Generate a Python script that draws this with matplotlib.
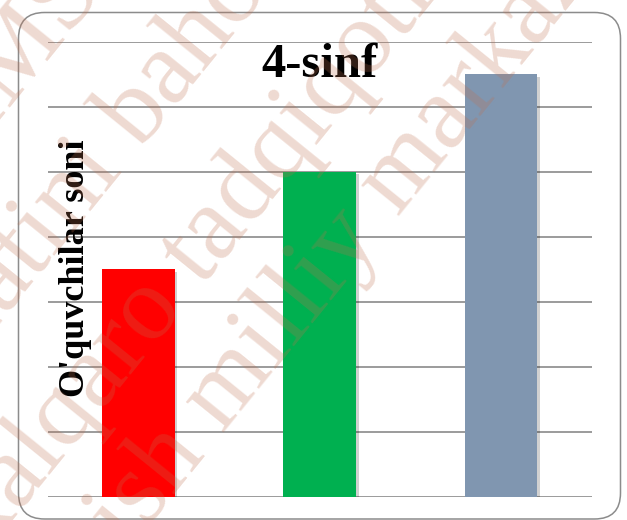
import matplotlib
matplotlib.use("Agg")
import matplotlib.pyplot as plt
import matplotlib.patheffects as pe
from matplotlib.patches import FancyBboxPatch

# data
categories = ["A", "B", "C"]
values = [3.5, 5.0, 6.5]
bar_colors = ["#ff0000", "#00b050", "#8096b0"]
y_max = 7
title = "4-sinf"
ylabel = "O'quvchilar soni"
watermark_lines = ["TIMSS", "sifatini baholash", "xalqaro tadqiqotlarni",
                   "oshirish milliy markazi"]

W, H = 627, 520
fig = plt.figure(figsize=(W / 100, H / 100), dpi=100)
fig.patch.set_facecolor("white")

# rounded frame around the chart (pixel coords)
frame = FancyBboxPatch((18.5, 1), 602, 506.5, boxstyle="round,pad=0,rounding_size=26",
                       transform=None, facecolor="none", edgecolor="#8c8c8c", lw=1.1)
fig.patches.append(frame)

ax = fig.add_axes([47.7 / W, 23.5 / H, 544 / W, 455 / H])
ax.set_facecolor("none")
x = list(range(len(categories)))
bars = ax.bar(x, values, width=0.4, color=bar_colors, zorder=3)
for b in bars:
    b.set_path_effects([pe.SimplePatchShadow(offset=(2, -2), shadow_rgbFace="k", alpha=0.18),
                        pe.Normal()])

ax.set_xlim(-0.5, len(categories) - 0.5)
ax.set_ylim(0, y_max)
ax.set_yticks(range(0, y_max + 1))
ax.yaxis.grid(True, color="#8a8a8a", lw=1.2, zorder=0)
ax.set_axisbelow(True)
ax.tick_params(left=False, bottom=False, labelleft=False, labelbottom=False)
for s in ax.spines.values():
    s.set_visible(False)

fig.text(320 / W, (H - 77) / H, title, ha="center", va="baseline",
         fontsize=35, fontweight="bold", family="Liberation Serif")
fig.text(75 / W, (H - 268) / H, ylabel, ha="center", va="center", rotation=90,
         fontsize=26, fontweight="bold", family="Liberation Serif")

# watermark, drawn on top (it runs off the edges like in the original)
wm_pos = [(23, 49), (138, 112), (244, 195), (285, 318)]
for txt, (px, py) in zip(watermark_lines, wm_pos):
    fig.text(px / W, (H - py) / H, txt, ha="center", va="center", rotation=51,
             rotation_mode="anchor", fontsize=76, family="Liberation Serif",
             color="#c0704f", alpha=0.26, zorder=10)

fig.savefig("out.png", dpi=100)
